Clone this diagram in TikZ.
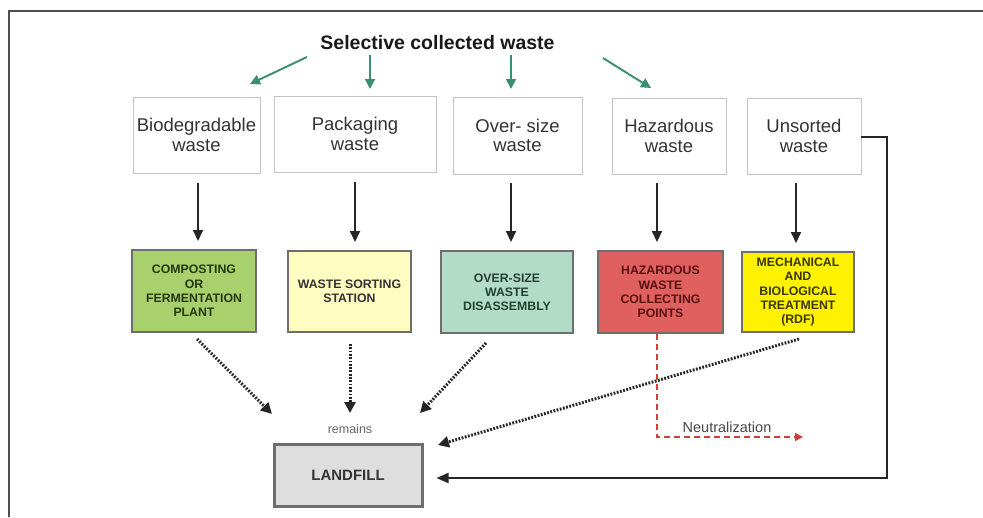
\documentclass[tikz,border=0pt]{standalone}
\usepackage{fontspec}
\setmainfont{Liberation Sans}
\usetikzlibrary{arrows.meta,calc}
\definecolor{framegray}{HTML}{4F4F4F}
\definecolor{boxgray}{HTML}{C4C4C4}
\definecolor{edgegray}{HTML}{6E6E6E}
\definecolor{arrowgreen}{HTML}{3A8F70}
\definecolor{fillcomp}{HTML}{A8D06C}
\definecolor{fillsort}{HTML}{FFFDC2}
\definecolor{fillover}{HTML}{B2DCC8}
\definecolor{fillhaz}{HTML}{E05F5F}
\definecolor{fillmbt}{HTML}{FFF200}
\definecolor{fillland}{HTML}{DEDEDE}
\definecolor{txtdark}{HTML}{333333}
\definecolor{txtcomp}{HTML}{26380F}
\definecolor{txtover}{HTML}{243F33}
\definecolor{txthaz}{HTML}{5A1212}
\definecolor{txtmbt}{HTML}{3A3800}
\definecolor{reddash}{HTML}{D23C3C}
\begin{document}
\begin{tikzpicture}[x=1pt,y=-1pt,
  topbox/.style={draw=boxgray, line width=0.9pt, fill=white, inner sep=0pt, align=center,
    text=txtdark, font=\fontsize{18.5}{19.5}\selectfont},
  procbox/.style={draw=edgegray, line width=2pt, inner sep=0pt, align=center,
    font=\bfseries\fontsize{12.3}{14.2}\selectfont},
  greenarrow/.style={draw=arrowgreen, line width=1.9pt, -{Triangle[length=10pt,width=10pt]}},
  blackarrow/.style={draw=black!85, line width=2pt, -{Triangle[length=11pt,width=10pt]}},
  dotarrow/.style={draw=black!85, line width=3pt, dash pattern=on 1.8pt off 1.5pt,
    -{Triangle[length=11pt,width=11pt]}},
  reddashed/.style={draw=reddash, line width=1.6pt, dash pattern=on 6pt off 4pt,
    -{Triangle[length=8pt,width=8pt]}},
]
\useasboundingbox (0,0) rectangle (983,517);
\fill[white] (0,0) rectangle (983,517);
% frame
\draw[framegray, line width=2pt] (8.5,517) -- (8.5,11) -- (983,11);

% title
\node[font=\bfseries\fontsize{19.5}{22}\selectfont, text=black!90, inner sep=0pt] (title) at (437.5,43) {Selective collected waste};

% top boxes
\node[topbox, minimum width=127pt, minimum height=76pt] (bio) at (196.5,135) {Biodegradable\\waste};
\node[topbox, minimum width=162pt, minimum height=76pt] (pack) at (355,134) {Packaging\\waste};
\node[topbox, minimum width=129pt, minimum height=77pt] (over) at (517.5,135.5) {Over- size\\waste};
\node[topbox, minimum width=114pt, minimum height=76pt] (haz) at (669,136) {Hazardous\\waste};
\node[topbox, minimum width=114pt, minimum height=76pt] (uns) at (804,136) {Unsorted\\waste};

% process boxes
\node[procbox, fill=fillcomp, text=txtcomp, minimum width=124pt, minimum height=82pt] (comp) at (194,291) {COMPOSTING\\OR\\FERMENTATION\\PLANT};
\node[procbox, fill=fillsort, text=txtdark, minimum width=123pt, minimum height=81pt] (sort) at (349.5,291.5) {WASTE SORTING\\STATION};
\node[procbox, fill=fillover, text=txtover, minimum width=132pt, minimum height=82pt] (ovd) at (507,292) {OVER-SIZE\\WASTE\\DISASSEMBLY};
\node[procbox, fill=fillhaz, text=txthaz, minimum width=125pt, minimum height=82pt] (hcp) at (660.5,292) {HAZARDOUS\\WASTE\\COLLECTING\\POINTS};
\node[procbox, fill=fillmbt, text=txtmbt, minimum width=112pt, minimum height=80pt] (mbt) at (798,292) {MECHANICAL\\AND\\BIOLOGICAL\\TREATMENT\\(RDF)};

% landfill
\node[draw=edgegray, line width=3pt, fill=fillland, text=txtdark, inner sep=0pt,
  minimum width=148pt, minimum height=62pt, font=\bfseries\fontsize{15}{17}\selectfont] (land) at (348,475) {LANDFILL};
\node[text=black!60, inner sep=0pt, font=\fontsize{12.5}{14}\selectfont] (remains) at (350,429) {remains};
\node[text=black!72, inner sep=0pt, font=\fontsize{14.5}{16}\selectfont] (neut) at (727,427) {Neutralization};

% green arrows
\coordinate (g1s) at (307,57); \coordinate (g1e) at (250,84);
\coordinate (g2s) at (370,55); \coordinate (g2e) at (370,89);
\coordinate (g3s) at (511,55); \coordinate (g3e) at (511,89);
\coordinate (g4s) at (603,58); \coordinate (g4e) at (651,88);
\draw[greenarrow] (g1s) -- (g1e);
\draw[greenarrow] (g2s) -- (g2e);
\draw[greenarrow] (g3s) -- (g3e);
\draw[greenarrow] (g4s) -- (g4e);

% black vertical arrows
\draw[blackarrow, shorten <=10pt, shorten >=8pt] ([xshift=1.5pt]bio.south) -- ([xshift=1.5pt]bio.south |- comp.north);
\draw[blackarrow, shorten <=10pt, shorten >=8pt] (pack.south) -- (pack.south |- sort.north);
\draw[blackarrow, shorten <=9pt, shorten >=8pt] ([xshift=-6.5pt]over.south) -- ([xshift=-6.5pt]over.south |- ovd.north);
\draw[blackarrow, shorten <=9pt, shorten >=8pt] ([xshift=-12pt]haz.south) -- ([xshift=-12pt]haz.south |- hcp.north);
\draw[blackarrow, shorten <=9pt, shorten >=8pt] ([xshift=-8pt]uns.south) -- ([xshift=-8pt]uns.south |- mbt.north);

% dotted arrows to landfill
\coordinate (d1s) at (197,339); \coordinate (d1e) at (272,414);
\coordinate (d2s) at (350,344); \coordinate (d2e) at (350,413);
\coordinate (d3s) at (486,343); \coordinate (d3e) at (420,413);
\coordinate (d4s) at (799,339); \coordinate (d4e) at (438,445);
\draw[dotarrow] (d1s) -- (d1e);
\draw[dotarrow] (d2s) -- (d2e);
\draw[dotarrow] (d3s) -- (d3e);
\draw[dotarrow] (d4s) -- (d4e);

% unsorted to landfill
\coordinate (ucorner) at (887,137);
\coordinate (lcorner) at (887,478);
\draw[blackarrow, -{Triangle[length=12pt,width=10pt]}, shorten >=13pt] (uns.east |- ucorner) -- (ucorner) -- (lcorner) -- (lcorner -| land.east);

% neutralization
\coordinate (ncorner) at (657,437);
\coordinate (nend) at (803,437);
\draw[reddashed] ([xshift=-3.5pt]hcp.south) -- (ncorner) -- (nend);
\end{tikzpicture}
\end{document}
